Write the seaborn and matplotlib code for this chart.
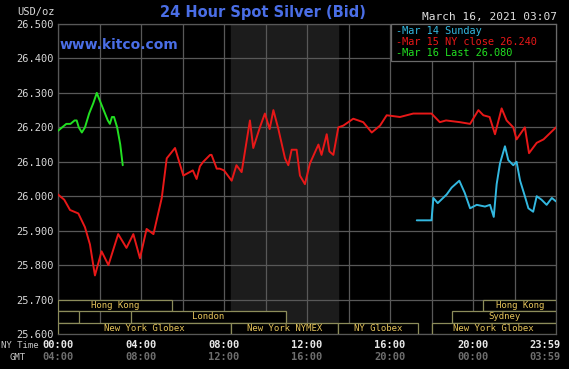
import matplotlib
matplotlib.use("Agg")
import matplotlib.pyplot as plt
import matplotlib.transforms as mtransforms
from matplotlib.patches import Rectangle
import numpy as np
import pandas as pd
import seaborn as sns

# hours after 00:00 NY time, price in USD/oz
mar15_hours = [0.0, 0.3, 0.58, 0.98, 1.3, 1.54, 1.78, 2.1, 2.43, 2.9, 3.3, 3.63, 3.95,
               4.27, 4.6, 5.0, 5.24, 5.64, 6.04, 6.5, 6.68, 6.84, 7.0, 7.33, 7.4, 7.65,
               7.8, 8.0, 8.37, 8.6, 8.85, 9.09, 9.25, 9.41, 9.73, 9.97, 10.2, 10.38,
               10.62, 10.94, 11.1, 11.26, 11.5, 11.66, 11.9, 12.14, 12.55, 12.7, 12.95,
               13.08, 13.27, 13.51, 13.75, 14.23, 14.71, 15.12, 15.52, 15.84, 16.48,
               17.12, 18.0, 18.4, 18.7, 19.37, 19.86, 20.26, 20.5, 20.8, 21.06, 21.38,
               21.62, 21.94, 22.1, 22.5, 22.7, 23.07, 23.4, 24.0]
mar15_price = [26.005, 25.99, 25.96, 25.95, 25.91, 25.86, 25.77, 25.84, 25.80, 25.89,
               25.85, 25.89, 25.82, 25.905, 25.89, 25.995, 26.11, 26.14, 26.06, 26.075,
               26.05, 26.087, 26.10, 26.12, 26.12, 26.08, 26.08, 26.075, 26.045, 26.09,
               26.07, 26.16, 26.22, 26.14, 26.20, 26.24, 26.195, 26.25, 26.195, 26.11,
               26.09, 26.135, 26.135, 26.06, 26.035, 26.095, 26.15, 26.12, 26.18, 26.13,
               26.12, 26.20, 26.205, 26.225, 26.215, 26.185, 26.205, 26.235, 26.23,
               26.24, 26.24, 26.215, 26.22, 26.215, 26.21, 26.25, 26.235, 26.23, 26.18,
               26.255, 26.22, 26.20, 26.165, 26.20, 26.125, 26.155, 26.165, 26.20]

mar14_hours = [17.29, 18.0, 18.09, 18.3, 18.73, 18.97, 19.34, 19.6, 19.86, 20.18, 20.58,
               20.82, 21.0, 21.14, 21.3, 21.54, 21.7, 21.94, 22.1, 22.27, 22.5, 22.67,
               22.9, 23.07, 23.3, 23.55, 23.8, 24.0]
mar14_price = [25.93, 25.93, 25.995, 25.98, 26.005, 26.025, 26.045, 26.01, 25.965,
               25.975, 25.97, 25.975, 25.94, 26.035, 26.095, 26.145, 26.105, 26.09,
               26.10, 26.045, 26.0, 25.965, 25.955, 26.0, 25.99, 25.975, 25.995, 25.985]

mar16_hours = [0.0, 0.2, 0.4, 0.6, 0.8, 0.9, 1.0, 1.15, 1.3, 1.5, 1.7, 1.87, 2.0, 2.2,
               2.4, 2.5, 2.6, 2.7, 2.85, 3.0, 3.1, 3.12]
mar16_price = [26.19, 26.20, 26.21, 26.21, 26.22, 26.22, 26.20, 26.185, 26.20, 26.24,
               26.27, 26.30, 26.28, 26.25, 26.22, 26.21, 26.23, 26.23, 26.20, 26.15,
               26.10, 26.09]

series_names = ["Mar 14 Sunday", "Mar 15 NY close 26.240", "Mar 16 Last 26.080"]
series_colors = ["#33b8e0", "#e81818", "#22e022"]

ny_labels = ["00:00", "04:00", "08:00", "12:00", "16:00", "20:00", "23:59"]
gmt_labels = ["04:00", "08:00", "12:00", "16:00", "20:00", "00:00", "03:59"]
label_hours = [0, 4, 8, 12, 16, 20, 23.983]

# trading sessions: (row, start, end, name)
sessions = [
    (0, 0.0, 5.5, "Hong Kong"), (0, 20.5, 24.0, "Hong Kong"),
    (1, 0.0, 1.0, ""), (1, 3.5, 11.0, "London"), (1, 19.0, 24.0, "Sydney"),
    (2, 0.0, 8.33, "New York Globex"), (2, 8.33, 13.5, "New York NYMEX"),
    (2, 13.5, 17.33, "NY Globex"), (2, 18.0, 24.0, "New York Globex"),
]
nymex_open, nymex_close = 8.33, 13.5

df = pd.concat([
    pd.DataFrame({"hour": mar14_hours, "price": mar14_price, "series": series_names[0]}),
    pd.DataFrame({"hour": mar15_hours, "price": mar15_price, "series": series_names[1]}),
    pd.DataFrame({"hour": mar16_hours, "price": mar16_price, "series": series_names[2]}),
])

sns.set_style("dark")
plt.rcParams["font.family"] = ["DejaVu Sans Mono"]

fig = plt.figure(figsize=(5.69, 3.69), dpi=100, facecolor="black")
ax = fig.add_axes([58 / 569, 35 / 369, 498 / 569, 310 / 369], facecolor="black")

grid_col = "#585858"
ax.axvspan(nymex_open, nymex_close, color="#1c1c1c", zorder=0)
ax.set_xlim(0, 24)
ax.set_ylim(25.6, 26.5)
ax.set_xticks(np.arange(0, 25, 2))
ax.set_yticks(np.round(np.arange(25.6, 26.51, 0.1), 1))
ax.grid(True, color=grid_col, linewidth=0.9)
ax.set_axisbelow(True)
for s in ax.spines.values():
    s.set_color(grid_col)
    s.set_linewidth(0.9)
ax.tick_params(axis="x", length=0, labelbottom=False)
ax.tick_params(axis="y", length=0, colors="#d8d8d8", labelsize=7.5, pad=3)
ax.set_yticklabels([f"{v:.3f}" for v in ax.get_yticks()])

sns.lineplot(data=df, x="hour", y="price", hue="series", palette=series_colors,
             hue_order=series_names, estimator=None, sort=False, linewidth=1.4,
             legend=False, ax=ax, zorder=3)
ax.set_xlabel("")
ax.set_ylabel("")

# session boxes
row_h = 0.1 / 3
for row, start, end, name in sessions:
    y0 = 25.7 - (row + 1) * row_h
    ax.add_patch(Rectangle((start, y0), end - start, row_h, facecolor="black",
                           edgecolor="#8c8c5a", linewidth=0.9, zorder=4))
    if name:
        ax.text((start + end) / 2, y0 + row_h / 2, name, color="#e6c45a",
                fontsize=6.5, ha="center", va="center", zorder=5)

# x labels (NY time and GMT)
trans = mtransforms.blended_transform_factory(ax.transData, fig.transFigure)
for h, ny, gmt in zip(label_hours, ny_labels, gmt_labels):
    if h > 23:
        x, ha, t = 561 / 569, "right", fig.transFigure
    else:
        x, ha, t = h, "center", trans
    ax.text(x, 1 - 345 / 369, ny, transform=t, color="#e8e8e8", fontsize=7.5,
            fontweight="bold", ha=ha, va="center")
    ax.text(x, 1 - 357 / 369, gmt, transform=t, color="#6e6e6e", fontsize=7.5,
            fontweight="bold", ha=ha, va="center")
fig.text(1 / 569, 1 - 345 / 369, "NY Time", color="#c8c8c8", fontsize=6.5, va="center")
fig.text(10 / 569, 1 - 357 / 369, "GMT", color="#c8c8c8", fontsize=6.5, va="center")

# header texts
fig.text(17 / 569, 1 - 12 / 369, "USD/oz", color="#d8d8d8", fontsize=7.5, va="center")
fig.text(263 / 569, 1 - 13 / 369, "24 Hour Spot Silver (Bid)", color="#4a6ee6",
         fontsize=10.5, fontweight="bold", ha="center", va="center", family="DejaVu Sans")
fig.text(60 / 569, 1 - 45 / 369, "www.kitco.com", color="#4a6ee6", fontsize=10,
         fontweight="bold", va="center", family="DejaVu Sans")
fig.text(557 / 569, 1 - 17 / 369, "March 16, 2021 03:07", color="#e0e0e0", fontsize=8,
         ha="right", va="center")

# legend box
fig.patches.append(Rectangle((391 / 569, 1 - 61 / 369), 165 / 569, 37 / 369,
                             transform=fig.transFigure, facecolor="black",
                             edgecolor="#6a6a6a", linewidth=0.9, zorder=10))
for i, (name, col) in enumerate(zip(series_names, series_colors)):
    fig.text(396 / 569, 1 - (31 + 11 * i) / 369, "-" + name, color=col, fontsize=7.4,
             va="center", zorder=11)

fig.savefig("out.png", dpi=100, facecolor="black")
